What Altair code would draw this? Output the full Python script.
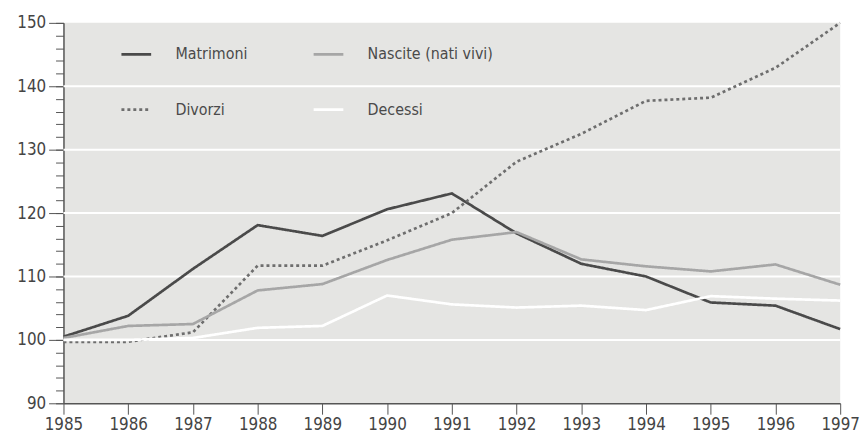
import altair as alt
import pandas as pd

years = list(range(1985, 1998))
matrimoni = [100.5, 103.8, 111.2, 118.1, 116.4, 120.6, 123.1, 116.8, 112.0, 110.0, 105.9, 105.4, 101.7]
nascite = [100.3, 102.2, 102.5, 107.8, 108.8, 112.6, 115.8, 117.0, 112.7, 111.6, 110.8, 111.9, 108.7]
divorzi = [99.7, 99.7, 101.2, 111.7, 111.7, 115.7, 120.0, 128.1, 132.5, 137.7, 138.2, 142.9, 150.0]
decessi = [100.0, 100.0, 100.3, 101.9, 102.2, 107.0, 105.6, 105.1, 105.4, 104.7, 106.9, 106.5, 106.2]

# legend is laid out column by column: (Matrimoni, Divorzi) | (Nascite, Decessi)
series = ["Matrimoni", "Divorzi", "Nascite (nati vivi)", "Decessi"]
series_vals = [matrimoni, divorzi, nascite, decessi]
colors = ["#4a4a4a", "#6e6e6e", "#a6a6a6", "#ffffff"]
dashes = [[1, 0], [3, 3], [1, 0], [1, 0]]

y_major = [90, 100, 110, 120, 130, 140, 150]
y_minor = list(range(90, 151, 2))
grid_vals = [100, 110, 120, 130, 140]

FONT = "DejaVu Sans Condensed"

rows = []
for name, vals in zip(series, series_vals):
    for yr, v in zip(years, vals):
        rows.append({"anno": yr, "valore": v, "serie": name})
df = pd.DataFrame(rows)
grid_df = pd.DataFrame({"g": grid_vals})

yscale = alt.Scale(domain=[90, 150], nice=False, zero=False)
xscale = alt.Scale(domain=[1985, 1997], nice=False, zero=False)

legend_props = dict(
    title=None, orient="none", legendX=57, legendY=15, columns=2,
    symbolType="stroke", symbolSize=900, symbolStrokeWidth=2.8,
    labelFont=FONT, labelFontSize=16, labelColor="#4a4a4a", labelOffset=23,
    columnPadding=60, rowPadding=31, padding=0,
)

grid = alt.Chart(grid_df).mark_rule(color="white", strokeWidth=2).encode(
    y=alt.Y("g:Q", scale=yscale,
            axis=alt.Axis(values=y_minor, tickSize=8, labels=False, domain=False,
                          grid=False, title=None, orient="left", tickColor="#555",
                          tickWidth=1))
)

lines = alt.Chart(df).mark_line(strokeWidth=2.7).encode(
    x=alt.X("anno:Q", scale=xscale,
            axis=alt.Axis(values=years, format="d", grid=False, tickSize=11,
                          labelFontSize=17, labelFont=FONT, labelPadding=2,
                          labelFlush=False, domainColor="#555", tickColor="#555",
                          labelColor="#444", title=None, domainWidth=1.5)),
    y=alt.Y("valore:Q", scale=yscale,
            axis=alt.Axis(values=y_major, tickSize=15, labelFontSize=17,
                          labelFont=FONT, labelPadding=3, grid=False,
                          domainColor="#555", tickColor="#555", labelColor="#444",
                          title=None, orient="left", domainWidth=1.5)),
    color=alt.Color("serie:N", scale=alt.Scale(domain=series, range=colors),
                    legend=alt.Legend(**legend_props)),
    strokeDash=alt.StrokeDash("serie:N", scale=alt.Scale(domain=series, range=dashes),
                              legend=alt.Legend(**legend_props)),
    detail="serie:N",
)

chart = alt.layer(grid, lines).resolve_axis(y="independent").properties(
    width=784, height=384,
    background="white",
    autosize=alt.AutoSizeParams(type="none"),
    padding={"left": 56, "top": 13, "right": 20, "bottom": 30},
).configure_view(fill="#e5e5e3", stroke=None)

chart.save("out.html", embed_options={"renderer": "svg", "actions": False})
